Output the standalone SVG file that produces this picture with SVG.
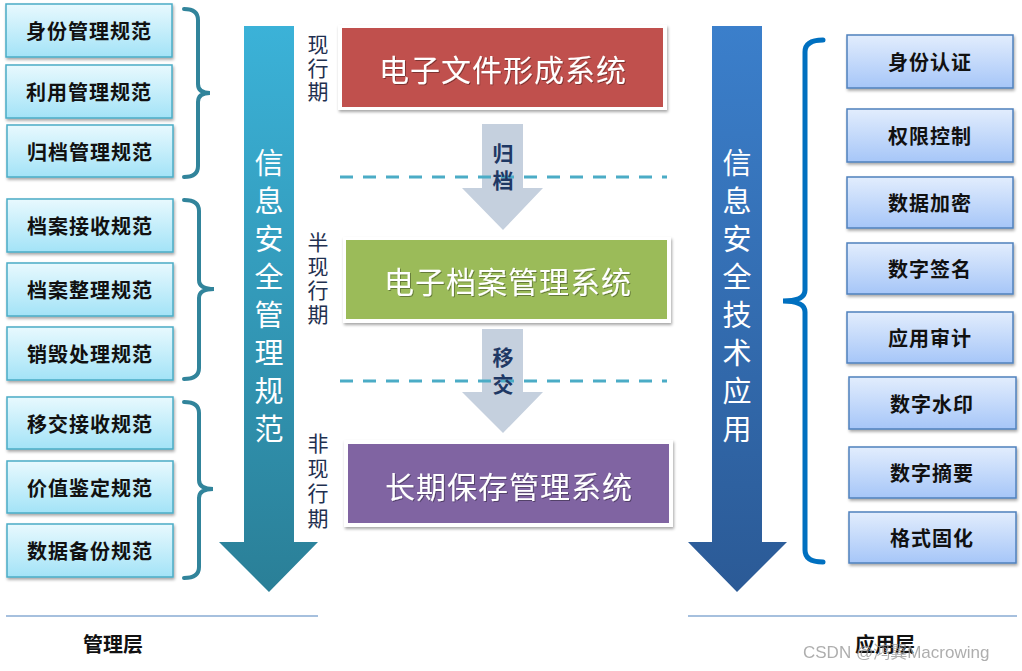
<svg xmlns="http://www.w3.org/2000/svg" width="1022" height="671" viewBox="0 0 1022 671">
<defs>
<linearGradient id="gLeftBox" x1="0" y1="0" x2="0" y2="1"><stop offset="0" stop-color="#E8F9FE"/><stop offset="1" stop-color="#A3E3F7"/></linearGradient>
<linearGradient id="gRightBox" x1="0" y1="0" x2="0" y2="1"><stop offset="0" stop-color="#E2EDFD"/><stop offset="1" stop-color="#A6C6F8"/></linearGradient>
<linearGradient id="gLeftArrow" x1="0" y1="0" x2="0" y2="1"><stop offset="0" stop-color="#3BB2D8"/><stop offset="1" stop-color="#2A7F97"/></linearGradient>
<linearGradient id="gRightArrow" x1="0" y1="0" x2="0" y2="1"><stop offset="0" stop-color="#3B7FCB"/><stop offset="1" stop-color="#2B5A96"/></linearGradient>
<filter id="sh" x="-10%" y="-10%" width="125%" height="140%"><feDropShadow dx="1" dy="2" stdDeviation="1.5" flood-color="#000" flood-opacity="0.35"/></filter>
<filter id="tsh" x="-10%" y="-10%" width="130%" height="130%"><feDropShadow dx="1" dy="1" stdDeviation="0.6" flood-color="#000" flood-opacity="0.35"/></filter>
</defs>
<style>
.lb{fill:url(#gLeftBox);stroke:#4BACC6;stroke-width:1.5;filter:url(#sh)}
.rb{fill:url(#gRightBox);stroke:#4F81BD;stroke-width:1.5;filter:url(#sh)}
.bt{font-family:"Noto Sans CJK SC","Noto Sans CJK JP",sans-serif;font-size:20px;font-weight:bold;fill:#111;text-anchor:middle;dominant-baseline:central;letter-spacing:1px}
.big{font-family:"Noto Sans CJK SC",sans-serif;font-size:29px;fill:#fff;writing-mode:vertical-rl;letter-spacing:9px}
.sys{font-family:"Noto Sans CJK SC",sans-serif;font-size:30px;fill:#fff;text-anchor:middle;dominant-baseline:central;letter-spacing:1px;filter:url(#tsh)}
.per{font-family:"Noto Sans CJK SC",sans-serif;font-size:21px;fill:#1F3050;writing-mode:vertical-rl}
.mv{font-family:"Noto Sans CJK SC",sans-serif;font-size:21px;font-weight:bold;fill:#1F3864;writing-mode:vertical-rl;letter-spacing:6px}
.layer{font-family:"Noto Sans CJK SC",sans-serif;font-size:20px;font-weight:bold;fill:#111;text-anchor:middle;dominant-baseline:central}
.dash{stroke:#4BACC6;stroke-width:3;stroke-dasharray:13 10;fill:none}
.bl{stroke:#31849B;stroke-width:4;fill:none;stroke-linecap:round}
.br{stroke:#0070C0;stroke-width:5;fill:none;stroke-linecap:round}
.ga{fill:#C5D0DE}
.wm{font-family:"Liberation Sans","Noto Sans CJK SC",sans-serif;font-size:17px;fill:#9a9a9a;opacity:0.8}
</style>

<!-- Big arrows -->
<g id="leftArrow">
<polygon points="244,26 294,26 294,542 318,542 269,592 219,542 244,542" fill="url(#gLeftArrow)"/>
<text class="big" x="269" y="148">信息安全管理规范</text>
</g>
<g id="rightArrow">
<polygon points="712,26 762,26 762,542 787,542 737,592 688,542 712,542" fill="url(#gRightArrow)"/>
<text class="big" x="737" y="148">信息安全技术应用</text>
</g>

<!-- Left boxes -->
<g id="n-sfgl"><rect class="lb" x="6" y="4" width="166" height="53"/><text class="bt" x="89" y="30">身份管理规范</text></g>
<g id="n-lygl"><rect class="lb" x="6" y="65" width="166" height="53"/><text class="bt" x="89" y="91">利用管理规范</text></g>
<g id="n-gdgl"><rect class="lb" x="7" y="125" width="166" height="52"/><text class="bt" x="90" y="151">归档管理规范</text></g>
<g id="n-dajs"><rect class="lb" x="7" y="199" width="166" height="53"/><text class="bt" x="90" y="225">档案接收规范</text></g>
<g id="n-dazl"><rect class="lb" x="7" y="263" width="166" height="53"/><text class="bt" x="90" y="289">档案整理规范</text></g>
<g id="n-xhcl"><rect class="lb" x="7" y="327" width="166" height="53"/><text class="bt" x="90" y="353">销毁处理规范</text></g>
<g id="n-yjjs"><rect class="lb" x="7" y="397" width="166" height="52"/><text class="bt" x="90" y="423">移交接收规范</text></g>
<g id="n-jzjd"><rect class="lb" x="7" y="461" width="166" height="52"/><text class="bt" x="90" y="487">价值鉴定规范</text></g>
<g id="n-sjbf"><rect class="lb" x="7" y="524" width="166" height="53"/><text class="bt" x="90" y="550">数据备份规范</text></g>

<!-- Right boxes -->
<g id="n-sfrz"><rect class="rb" x="847" y="35" width="166" height="53"/><text class="bt" x="930" y="61">身份认证</text></g>
<g id="n-qxkz"><rect class="rb" x="847" y="109" width="166" height="53"/><text class="bt" x="930" y="135">权限控制</text></g>
<g id="n-sjjm"><rect class="rb" x="847" y="177" width="166" height="51"/><text class="bt" x="930" y="202">数据加密</text></g>
<g id="n-szqm"><rect class="rb" x="847" y="243" width="166" height="51"/><text class="bt" x="930" y="268">数字签名</text></g>
<g id="n-yysj"><rect class="rb" x="847" y="312" width="166" height="51"/><text class="bt" x="930" y="337">应用审计</text></g>
<g id="n-szsy"><rect class="rb" x="849" y="377" width="167" height="52"/><text class="bt" x="932" y="403">数字水印</text></g>
<g id="n-szzy"><rect class="rb" x="849" y="447" width="167" height="51"/><text class="bt" x="932" y="472">数字摘要</text></g>
<g id="n-gsgh"><rect class="rb" x="849" y="512" width="167" height="51"/><text class="bt" x="932" y="537">格式固化</text></g>

<!-- System boxes -->
<g id="n-dzwj"><rect x="338" y="25" width="329" height="85" fill="#fff" filter="url(#sh)"/><rect x="342" y="28" width="321" height="79" fill="#C0504D"/><text class="sys" x="503" y="68">电子文件形成系统</text></g>
<g id="n-dzda"><rect x="343" y="237" width="328" height="86" fill="#fff" filter="url(#sh)"/><rect x="346" y="240" width="321" height="79" fill="#9BBB59"/><text class="sys" x="508" y="280">电子档案管理系统</text></g>
<g id="n-cqbc"><rect x="344" y="440" width="329" height="87" fill="#fff" filter="url(#sh)"/><rect x="348" y="444" width="321" height="79" fill="#8064A2"/><text class="sys" x="509" y="485">长期保存管理系统</text></g>

<!-- Period labels -->
<g id="per1"><text class="per" x="318" y="34" letter-spacing="2.5">现行期</text></g>
<g id="per2"><text class="per" x="318" y="232" letter-spacing="3">半现行期</text></g>
<g id="per3"><text class="per" x="318" y="433" letter-spacing="3.7">非现行期</text></g>

<!-- Connectors -->
<g id="connectors">
<polygon class="ga" points="482,124 523,124 523,188 543,188 503,230 462,188 482,188"/>
<polygon class="ga" points="482,329 523,329 523,392 543,392 503,433 462,392 482,392"/>
<line class="dash" x1="340" y1="177" x2="667" y2="177"/>
<line class="dash" x1="340" y1="381" x2="667" y2="381"/>
<text class="mv" x="503" y="143">归档</text>
<text class="mv" x="503" y="347">移交</text>
<path class="bl" d="M184,9 Q198,9 198,20 L198,84 Q198,93 210,93 Q198,93 198,102 L198,166 Q198,177 184,177"/>
<path class="bl" d="M184,200 Q199,200 199,211 L199,280 Q199,289 214,289 Q199,289 199,298 L199,368 Q199,379 184,379"/>
<path class="bl" d="M184,402 Q199,402 199,413 L199,480 Q199,489 213,489 Q199,489 199,498 L199,567 Q199,578 184,578"/>
<path class="br" d="M823,40 Q805,40 805,52 L805,290 Q805,301 783,301 Q805,301 805,312 L805,550 Q805,562 823,562"/>
<line x1="6" y1="616" x2="318" y2="616" stroke="#4F81BD" stroke-width="1.2"/>
<line x1="688" y1="616" x2="1017" y2="616" stroke="#4F81BD" stroke-width="1.2"/>
</g>

<g id="layers">
<text class="layer" x="113" y="643">管理层</text>
<text class="layer" x="885" y="643">应用层</text>
<text class="wm" x="803" y="658">CSDN @鸿翼Macrowing</text>
</g>
</svg>
